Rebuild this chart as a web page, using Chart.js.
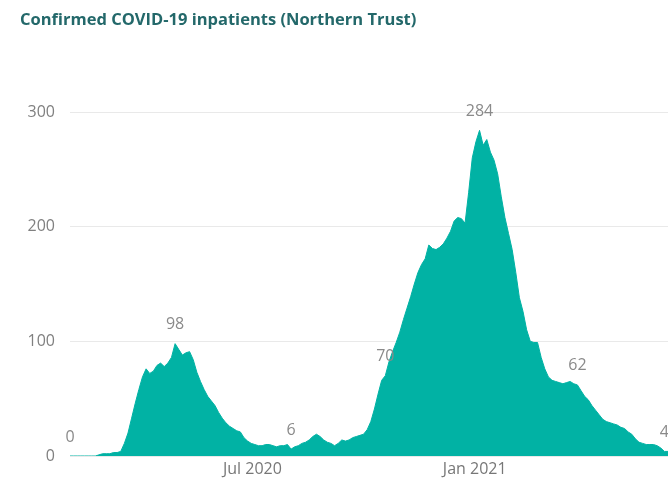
<!DOCTYPE html>
<html>
<head>
<meta charset="utf-8">
<script src="https://cdn.jsdelivr.net/npm/chart.js@4.4.1/dist/chart.umd.min.js"></script>
<style>
  html, body { margin: 0; padding: 0; background: #fff; }
  #wrap { position: relative; width: 668px; height: 481px; }
</style>
</head>
<body>
<div id="wrap"><canvas id="inpatientsChart" width="668" height="481"></canvas></div>
<script>
// readings every 3 days, starting 1 Feb 2020
const startDate = new Date(2020, 1, 1);
const stepDays = 3;
const inpatients = [
  0, 0, 0, 0, 0, 0, 0, 0, 1, 2, 2, 2, 3, 3, 4, 11, 20, 33, 46, 58,
  69, 76, 72, 74, 79, 81, 78, 81, 86, 98, 93, 88, 90, 91, 84, 73, 65, 58, 52, 48,
  44, 38, 33, 29, 26, 24, 22, 21, 16, 13, 11, 10, 9, 9, 10, 10, 9, 8, 9, 9,
  10, 6, 8, 9, 11, 12, 14, 17, 19, 17, 14, 12, 11, 9, 11, 14, 13, 14, 16, 17,
  18, 19, 23, 30, 41, 54, 66, 70, 82, 91, 99, 108, 119, 129, 139, 150, 160, 167, 172, 184,
  181, 180, 182, 185, 190, 196, 205, 208, 207, 203, 230, 260, 274, 284, 271, 276, 265, 258, 246, 226,
  208, 194, 180, 160, 138, 126, 110, 100, 99, 99, 86, 76, 69, 66, 65, 64, 63, 64, 65, 63,
  62, 57, 52, 49, 44, 40, 36, 32, 30, 29, 28, 27, 25, 24, 21, 19, 15, 12, 11, 10,
  10, 10, 9, 7, 4, 4
];
// points that carry a value label
const labelledPoints = [0, 29, 61, 87, 113, 140, 164];
// x axis ticks: day offsets from startDate and their text
const xTickDays = [151, 335];
const xTickLabels = ['Jul 2020', 'Jan 2021'];
const yTicks = [0, 100, 200, 300];

const points = inpatients.map((v, i) => ({ x: i * stepDays, y: v }));

const pointLabels = {
  id: 'pointLabels',
  afterDatasetsDraw(chart) {
    const ctx = chart.ctx;
    const meta = chart.getDatasetMeta(0);
    ctx.save();
    ctx.font = '16px "Open Sans", sans-serif';
    ctx.fillStyle = '#8a8a8a';
    ctx.textAlign = 'center';
    ctx.textBaseline = 'middle';
    labelledPoints.forEach(i => {
      const p = meta.data[i];
      ctx.fillText(String(inpatients[i]), p.x, p.y - 19);
    });
    ctx.restore();
  }
};

const titleText = {
  id: 'titleText',
  afterDraw(chart) {
    const ctx = chart.ctx;
    ctx.save();
    ctx.font = 'bold 16.5px "Open Sans", sans-serif';
    ctx.fillStyle = '#23686a';
    ctx.textAlign = 'left';
    ctx.textBaseline = 'middle';
    ctx.fillText('Confirmed COVID-19 inpatients (Northern Trust)', 20, 20);
    ctx.restore();
  }
};

new Chart(document.getElementById('inpatientsChart'), {
  type: 'line',
  data: {
    datasets: [{
      data: points,
      borderColor: '#01b2a4',
      backgroundColor: '#01b2a4',
      borderWidth: 1,
      fill: 'origin',
      pointRadius: 0,
      tension: 0
    }]
  },
  options: {
    responsive: false,
    animation: false,
    layout: { padding: { top: 112, right: 0, left: 0, bottom: 0 } },
    plugins: {
      legend: { display: false },
      tooltip: { enabled: false }
    },
    scales: {
      x: {
        type: 'linear',
        min: 0,
        max: 495,
        afterFit: scale => { scale.height = 25; },
        grid: { display: false },
        border: { display: false },
        afterBuildTicks: scale => {
          scale.ticks = xTickDays.map(d => ({ value: d }));
        },
        ticks: {
          autoSkip: false,
          maxRotation: 0,
          padding: -4,
          color: '#777',
          font: { family: 'Open Sans', size: 16 },
          callback: value => xTickLabels[xTickDays.indexOf(value)] || ''
        }
      },
      y: {
        min: 0,
        max: 300,
        afterFit: scale => { scale.width = 70; },
        afterBuildTicks: scale => {
          scale.ticks = yTicks.map(v => ({ value: v }));
        },
        grid: { color: '#e9e9e9', drawTicks: false, lineWidth: 1 },
        border: { display: false },
        ticks: {
          padding: 15,
          color: '#808080',
          font: { family: 'Open Sans', size: 16 }
        }
      }
    }
  },
  plugins: [pointLabels, titleText]
});
</script>
</body>
</html>
